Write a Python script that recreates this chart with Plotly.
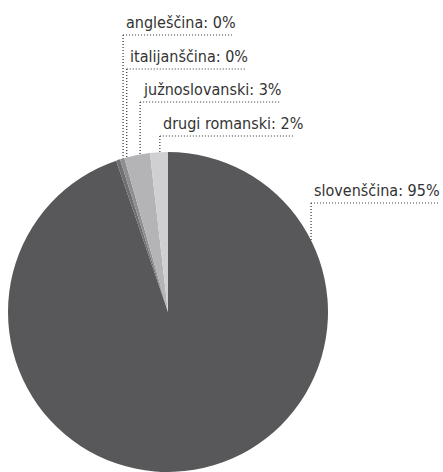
import math
import plotly.graph_objects as go

# Language shares (percent), listed clockwise from 12 o'clock
languages = ["slovenščina", "angleščina", "italijanščina", "južnoslovanski", "drugi romanski"]
shares = [94.75, 0.40, 0.45, 2.60, 1.80]
slice_colors = ["#58585a", "#6f6f71", "#8e8e90", "#b4b4b6", "#d0d0d2"]

# Label rows from the top: language order of the callouts
label_order = ["angleščina", "italijanščina", "južnoslovanski", "drugi romanski", "slovenščina"]

W, H = 443, 472
CX, CY, R = 168, 312, 160          # pie centre and radius in px
ROW_Y = [35, 69, 102, 136, 203]    # baseline rule of each callout
FONT = "DejaVu Sans Condensed, Liberation Sans Narrow, sans-serif"
FONT_SIZE = 16
LEADER_COLOR = "#333333"
TEXT_COLOR = "#333333"

total = sum(shares)
pct = {lang: v / total * 100 for lang, v in zip(languages, shares)}

# mid angle of each slice, clockwise from top (degrees)
mid_angle = {}
acc = 0.0
for lang, v in zip(languages, shares):
    frac = v / total
    mid_angle[lang] = (acc + frac / 2) * 360
    acc += frac


def text_width(s):
    narrow = set("iljtf:r ")
    wide = set("mw%")
    w = 0.0
    for ch in s:
        if ch in narrow:
            w += 4.2
        elif ch in wide:
            w += 11.0
        else:
            w += 8.4
    return w


fig = go.Figure()

fig.add_trace(go.Pie(
    labels=languages,
    values=shares,
    sort=False,
    direction="clockwise",
    rotation=0,
    marker=dict(colors=slice_colors, line=dict(width=0)),
    textinfo="none",
    hoverinfo="label+percent",
    showlegend=False,
    domain=dict(x=[(CX - R) / W, (CX + R) / W], y=[(H - CY - R) / H, (H - CY + R) / H]),
))

shapes = []
annotations = []
for row_y, lang in zip(ROW_Y, label_order):
    if lang == "slovenščina":
        ang = math.radians(63.4)   # big slice: callout on its upper-right rim
        rr = R
    else:
        ang = math.radians(mid_angle[lang])
        rr = 0.9 * R
    lx = CX + rr * math.sin(ang)
    # where the vertical leader meets the rim
    dx = lx - CX
    rim_y = CY - math.sqrt(max(R * R - dx * dx, 0))
    label = f"{lang}: {round(pct[lang])}%"
    tx = lx + 1
    end_x = min(tx + text_width(label) + 6, W)
    dot = dict(color=LEADER_COLOR, width=1.2, dash="1px,2px")
    shapes.append(dict(type="line", xref="x", yref="y", x0=lx, x1=end_x, y0=row_y, y1=row_y, line=dot, layer="above"))
    shapes.append(dict(type="line", xref="x", yref="y", x0=lx, x1=lx, y0=row_y, y1=rim_y, line=dot, layer="above"))
    annotations.append(dict(
        x=tx, y=row_y - 1, xref="x", yref="y", text=label, showarrow=False,
        xanchor="left", yanchor="bottom",
        font=dict(family=FONT, size=FONT_SIZE, color=TEXT_COLOR),
    ))

fig.update_layout(
    width=W, height=H,
    margin=dict(l=0, r=0, t=0, b=0),
    paper_bgcolor="white", plot_bgcolor="rgba(0,0,0,0)",
    xaxis=dict(range=[0, W], visible=False, fixedrange=True),
    yaxis=dict(range=[H, 0], visible=False, fixedrange=True),
    shapes=shapes,
    annotations=annotations,
)

fig.write_html("out.html")
